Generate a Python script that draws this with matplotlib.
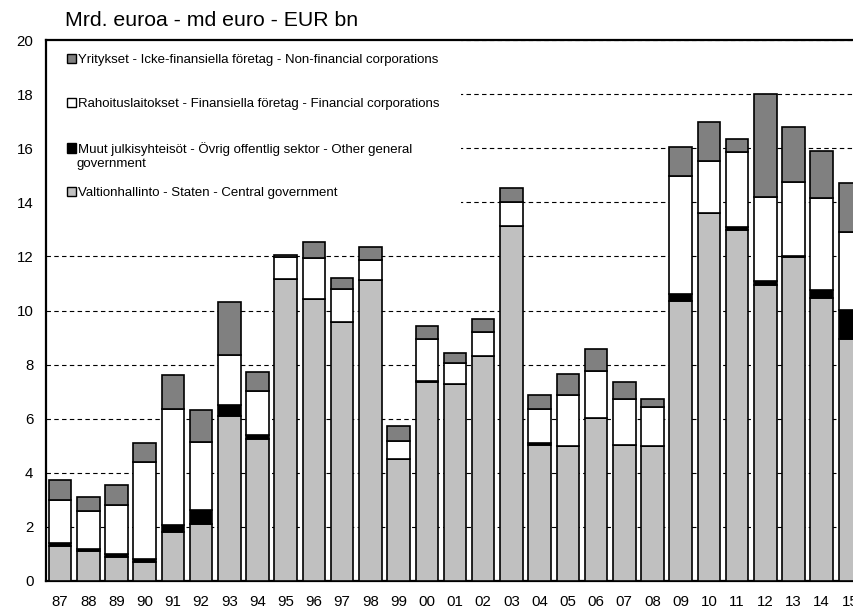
import numpy as np
import matplotlib.pyplot as plt
from matplotlib.patches import Patch

plt.rcParams['font.family'] = ['Liberation Sans', 'DejaVu Sans']

# vuodet
years = ['87', '88', '89', '90', '91', '92', '93', '94', '95', '96', '97', '98', '99',
         '00', '01', '02', '03', '04', '05', '06', '07', '08', '09', '10', '11', '12',
         '13', '14', '15']

# Valtionhallinto - Central government
central = [1.30, 1.10, 0.90, 0.70, 1.80, 2.10, 6.10, 5.25, 11.18, 10.44, 9.59, 11.12, 4.50,
           7.35, 7.28, 8.32, 13.13, 5.02, 5.00, 6.01, 5.02, 5.00, 10.35, 13.60, 12.98, 10.95,
           11.97, 10.45, 8.95]
# Muut julkisyhteisöt - Other general government
other_gov = [0.10, 0.08, 0.10, 0.10, 0.27, 0.52, 0.40, 0.15, 0.00, 0.00, 0.00, 0.00, 0.00,
             0.05, 0.00, 0.00, 0.00, 0.10, 0.00, 0.00, 0.00, 0.00, 0.26, 0.00, 0.12, 0.13,
             0.03, 0.31, 1.07]
# Rahoituslaitokset - Financial corporations
financial = [1.60, 1.42, 1.80, 3.60, 4.28, 2.51, 1.85, 1.63, 0.80, 1.51, 1.19, 0.75, 0.68,
             1.55, 0.77, 0.87, 0.89, 1.23, 1.88, 1.76, 1.70, 1.44, 4.35, 1.93, 2.77, 3.12,
             2.76, 3.39, 2.87]
# Yritykset - Non-financial corporations
nonfin = [0.75, 0.50, 0.75, 0.70, 1.27, 1.18, 1.98, 0.71, 0.08, 0.57, 0.41, 0.48, 0.55,
          0.49, 0.38, 0.48, 0.51, 0.52, 0.77, 0.80, 0.65, 0.29, 1.08, 1.44, 0.48, 3.81,
          2.01, 1.74, 1.81]

labels = ['Valtionhallinto - Staten - Central government',
          'Muut julkisyhteisöt - Övrig offentlig sektor - Other general',
          'Rahoituslaitokset - Finansiella företag - Financial corporations',
          'Yritykset - Icke-finansiella företag - Non-financial corporations']
colors = ['#c0c0c0', '#000000', '#ffffff', '#808080']

fig = plt.figure(figsize=(8.54, 6.08), dpi=100)
ax = fig.add_axes([46 / 854, 27 / 608, 818 / 854, 541 / 608])

x = np.arange(len(years))
series = [central, other_gov, financial, nonfin]
bottom = np.zeros(len(years))
for vals, col in zip(series, colors):
    v = np.array(vals)
    ax.bar(x, v, width=0.8, bottom=bottom, color=col, edgecolor='black', linewidth=1.2, zorder=3)
    bottom += v

ax.set_xlim(-0.5, 28.5)
ax.set_ylim(0, 20)
ax.set_yticks(np.arange(0, 21, 2))
ax.set_xticks(x)
ax.set_xticklabels(years)
ax.tick_params(axis='both', length=0, labelsize=10.8)
ax.tick_params(axis='y', pad=9)
ax.tick_params(axis='x', pad=10)
ax.yaxis.grid(True, ls=(0, (4, 3)), color='black', lw=0.8)
ax.set_axisbelow(True)
for s in ax.spines.values():
    s.set_linewidth(1.6)

# selite: valkoinen tausta peittää ruudukon, akselin reunat jäävät päälle
handles = [Patch(facecolor=c, edgecolor='black', linewidth=1.0) for c in colors]
leg = ax.legend(handles[::-1], labels[::-1], loc='upper left', bbox_to_anchor=(0, 1.0135),
                fontsize=9.5, frameon=True, fancybox=False, edgecolor='none', framealpha=1,
                handlelength=0.7, handleheight=0.7, handletextpad=0.15,
                labelspacing=2.4, borderpad=1.6, borderaxespad=0)
leg.set_zorder(2)
fig.text(77 / 854, 1 - 163.5 / 608, 'government', fontsize=9.5, va='center', ha='left', zorder=6)

fig.text(65 / 854, 1 - 20 / 608, 'Mrd. euroa - md euro - EUR bn', fontsize=15.3, va='center', ha='left')

fig.savefig('out.png', dpi=100)
